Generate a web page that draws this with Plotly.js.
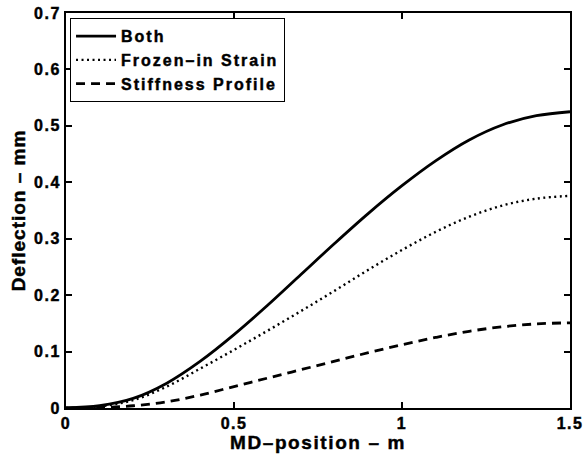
<!DOCTYPE html>
<html>
<head>
<meta charset="utf-8">
<script src="https://cdn.plot.ly/plotly-3.0.1.min.js"></script>
<style>
html,body{margin:0;padding:0;background:#fff;}
#chart{width:587px;height:462px;}
svg text {font-weight:700 !important; stroke:#000; stroke-width:0.45px;}
.xtick text, .ytick text {letter-spacing:1.5px;}
.legendtext {letter-spacing:2px;}
.xtitle {letter-spacing:1.6px;}
.ytitle {letter-spacing:1.0px;}
</style>
</head>
<body>
<div id="chart"></div>
<script>
var xPos = [0, 0.1, 0.2, 0.3, 0.4, 0.5, 0.6, 0.7, 0.8, 0.9, 1.0, 1.1, 1.2, 1.3, 1.4, 1.5];
var both = [0, 0.004, 0.017, 0.044, 0.083, 0.130, 0.182, 0.237, 0.292, 0.345, 0.394, 0.438, 0.475, 0.502, 0.518, 0.525];
var frozen = [0, 0.003, 0.014, 0.038, 0.070, 0.103, 0.137, 0.172, 0.208, 0.245, 0.280, 0.312, 0.339, 0.359, 0.371, 0.376];
var stiffness = [0, 0.001, 0.004, 0.011, 0.023, 0.038, 0.053, 0.068, 0.083, 0.098, 0.112, 0.125, 0.136, 0.144, 0.149, 0.151];
var seriesNames = ["Both", "Frozen\u2013in Strain", "Stiffness Profile"];
var xTicks = [0, 0.5, 1, 1.5];
var yTicks = [0, 0.1, 0.2, 0.3, 0.4, 0.5, 0.6, 0.7];

var fam = "Liberation Sans";
var traces = [
  {x: xPos, y: both, name: seriesNames[0], mode: "lines", legendgroup: "a",
   line: {color: "#000", width: 2.8, shape: "spline", dash: "solid"}},
  {x: xPos, y: frozen, name: seriesNames[1], mode: "lines", legendgroup: "b",
   line: {color: "#000", width: 2.4, shape: "spline", dash: "2px,3.5px"}},
  {x: xPos, y: stiffness, name: seriesNames[2], mode: "lines", legendgroup: "c",
   line: {color: "#000", width: 2.8, shape: "spline", dash: "9px,6px"}}
];
var axisCommon = {
  showline: true, linecolor: "#000", linewidth: 2, mirror: "ticks",
  ticks: "inside", ticklen: 6, tickwidth: 2, tickcolor: "#000",
  showgrid: false, zeroline: false,
  tickfont: {family: fam, size: 16, color: "#000", weight: 700}
};
var layout = {
  width: 587, height: 462,
  margin: {l: 66, r: 17, t: 13, b: 54},
  paper_bgcolor: "#fff", plot_bgcolor: "#fff",
  showlegend: true,
  legend: {x: 0.008, y: 0.987, xanchor: "left", yanchor: "top",
    bordercolor: "#000", borderwidth: 1, bgcolor: "#fff",
    tracegroupgap: 0, itemwidth: 40,
    font: {family: fam, size: 16, color: "#000", weight: 700}},
  xaxis: Object.assign({}, axisCommon, {
    range: [0, 1.5], tickvals: xTicks, ticktext: xTicks.map(String),
    title: {text: "MD\u2013position \u2013 m", standoff: 2,
      font: {family: fam, size: 19, color: "#000", weight: 700}}
  }),
  yaxis: Object.assign({}, axisCommon, {
    range: [0, 0.7], tickvals: yTicks, ticktext: yTicks.map(String),
    title: {text: "Deflection \u2013 mm", standoff: 3,
      font: {family: fam, size: 19, color: "#000", weight: 700}}
  })
};
Plotly.newPlot("chart", traces, layout, {displayModeBar: false, staticPlot: true});
</script>
</body>
</html>
